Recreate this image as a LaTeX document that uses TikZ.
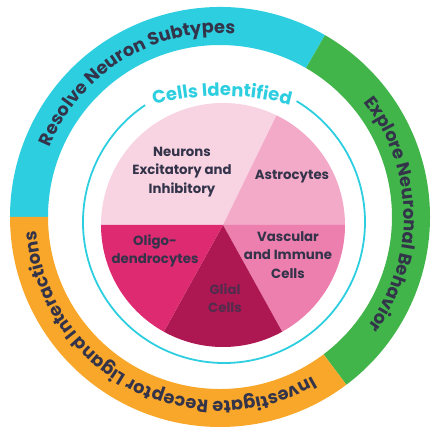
\documentclass[tikz,border=0pt]{standalone}
\usepackage{fontspec}
\setmainfont{Poppins}
\usetikzlibrary{decorations.text}
\definecolor{ringcyan}{HTML}{2DCEE0}
\definecolor{ringgreen}{HTML}{41B54A}
\definecolor{ringorange}{HTML}{F8A72A}
\definecolor{neuronpink}{HTML}{F8D4E3}
\definecolor{astropink}{HTML}{F3A9C8}
\definecolor{vascpink}{HTML}{EC7FAD}
\definecolor{glialred}{HTML}{AD1752}
\definecolor{oligored}{HTML}{DE2A71}
\definecolor{darktext}{HTML}{33334A}

\begin{document}
\begin{tikzpicture}[
		x=1pt, y=1pt,
		slicetext/.style={text=darktext, align=center, font=\bfseries\fontsize{13.3}{18.5}\selectfont},
		ringtext/.style={decorate, decoration={text along path, text align=center, text color=darktext, text={|\bfseries\fontsize{17.8}{18}\selectfont|#1}}},
	]
	\useasboundingbox (0,0) rectangle (442,437);
	\coordinate (c) at (220,220);
	\coordinate (p) at (223,212);
	\coordinate (t) at (224,215);
	\coordinate (h) at (222,81);

	% outer ring
	\fill[ringcyan] ([shift={(60:210)}]c) arc[start angle=60, end angle=180, radius=210pt] -- ([shift={(180:172)}]c) arc[start angle=180, end angle=60, radius=172pt] -- cycle;
	\fill[ringgreen] ([shift={(-53:210)}]c) arc[start angle=-53, end angle=60, radius=210pt] -- ([shift={(60:172)}]c) arc[start angle=60, end angle=-53, radius=172pt] -- cycle;
	\fill[ringorange] ([shift={(180:210)}]c) arc[start angle=180, end angle=307, radius=210pt] -- ([shift={(307:172)}]c) arc[start angle=307, end angle=180, radius=172pt] -- cycle;

	\path[ringtext={Resolve Neuron Subtypes}] ([shift={(170:184)}]c) arc[start angle=170, end angle=73, radius=184pt];
	\path[ringtext={Explore Neuronal Behavior}] ([shift={(50:184)}]c) arc[start angle=50, end angle=-48, radius=184pt];
	\path[ringtext={Investigate Receptor Ligand Interactions}] ([shift={(-45:184)}]c) arc[start angle=-45, end angle=-190.6, radius=184pt];

	% thin circle with title
	\draw[ringcyan, line width=1.8pt] ([shift={(124:141)}]t) arc[start angle=124, end angle=419, radius=141pt];
	\path[decorate, decoration={text along path, text align=center, text color=ringcyan, text={|\bfseries\fontsize{18}{18}\selectfont|Cells Identified}}] ([shift={(110:260)}]h) arc[start angle=110, end angle=70, radius=260pt];

	% pie
	\fill[neuronpink] (p) -- ++(64:122) arc[start angle=64, end angle=180, radius=122pt] -- cycle;
	\fill[astropink] (p) -- ++(0:122) arc[start angle=0, end angle=64, radius=122pt] -- cycle;
	\fill[vascpink] (p) -- ++(-61:122) arc[start angle=-61, end angle=0, radius=122pt] -- cycle;
	\fill[glialred] (p) -- ++(-119:122) arc[start angle=-119, end angle=-61, radius=122pt] -- cycle;
	\fill[oligored] (p) -- ++(180:122) arc[start angle=180, end angle=241, radius=122pt] -- cycle;

	\node (neurons) [slicetext] at (182,265) {Neurons\\Excitatory and\\Inhibitory};
	\node (astro) [slicetext] at (292,260) {Astrocytes};
	\node (oligo) [slicetext] at (155,186) {Oligo-\\dendrocytes};
	\node (vasc) [slicetext] at (288,182) {Vascular\\and Immune\\Cells};
	\node (glial) [slicetext, text=darktext!75!glialred] at (225,139) {Glial\\Cells};
\end{tikzpicture}
\end{document}
